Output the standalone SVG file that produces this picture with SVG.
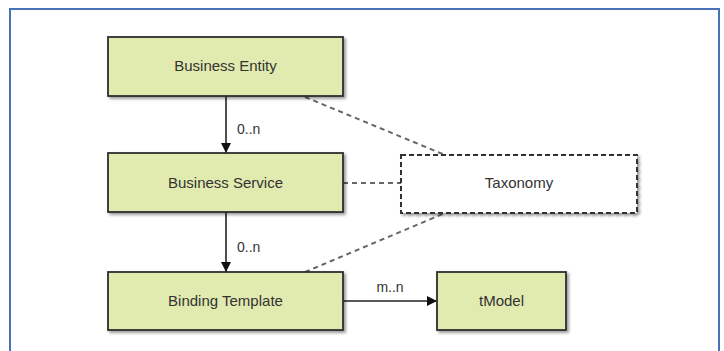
<svg xmlns="http://www.w3.org/2000/svg" width="724" height="351" viewBox="0 0 724 351">
<defs>
<filter id="sh" x="-10%" y="-10%" width="130%" height="140%">
<feDropShadow dx="2" dy="2" stdDeviation="1.5" flood-color="#000" flood-opacity="0.4"/>
</filter>
<marker id="ah" viewBox="0 0 10 10" refX="10" refY="5" markerWidth="10" markerHeight="10" markerUnits="userSpaceOnUse" orient="auto">
<path d="M0,0 L10,5 L0,10 z" fill="#111"/>
</marker>
</defs>
<style>
.box{fill:#e1eaaf;stroke:#2f2f2f;stroke-width:1.8;filter:url(#sh)}
.tax{fill:#fff;stroke:#333;stroke-width:2;stroke-dasharray:5 3;filter:url(#sh)}
.lbl{font-family:"Liberation Sans",Arial,sans-serif;font-size:15px;fill:#333;text-anchor:middle}
.card{font-family:"Liberation Sans",Arial,sans-serif;font-size:14px;fill:#333}
.arr{stroke:#222;stroke-width:1.6;fill:none;marker-end:url(#ah)}
.dash{stroke:#666;stroke-width:2;stroke-dasharray:5 4;fill:none}
</style>
<rect x="0" y="0" width="724" height="351" fill="#fff"/>
<rect x="10" y="9" width="709" height="360" fill="none" stroke="#4a72b8" stroke-width="2"/>
<g id="connectors">
<line class="dash" x1="305" y1="97" x2="445" y2="155"/>
<line class="dash" x1="343" y1="183" x2="401" y2="183"/>
<line class="dash" x1="305" y1="272" x2="445" y2="213"/>
<line class="arr" x1="226" y1="96" x2="226" y2="153"/>
<line class="arr" x1="226" y1="212" x2="226" y2="272"/>
<line class="arr" x1="343" y1="301" x2="437" y2="301"/>
<text class="card" x="237" y="134">0..n</text>
<text class="card" x="237" y="252">0..n</text>
<text class="card" x="390" y="292" text-anchor="middle">m..n</text>
</g>
<g id="business-entity">
<rect class="box" x="108" y="37" width="235" height="59"/>
<text class="lbl" x="225.5" y="71">Business Entity</text>
</g>
<g id="business-service">
<rect class="box" x="108" y="153" width="235" height="59"/>
<text class="lbl" x="225.5" y="188">Business Service</text>
</g>
<g id="binding-template">
<rect class="box" x="108" y="272" width="235" height="58"/>
<text class="lbl" x="225.5" y="306">Binding Template</text>
</g>
<g id="tmodel">
<rect class="box" x="437" y="272" width="129" height="58"/>
<text class="lbl" x="501.5" y="306">tModel</text>
</g>
<g id="taxonomy">
<rect class="tax" x="401" y="155" width="236" height="58"/>
<text class="lbl" x="519" y="188">Taxonomy</text>
</g>
</svg>
